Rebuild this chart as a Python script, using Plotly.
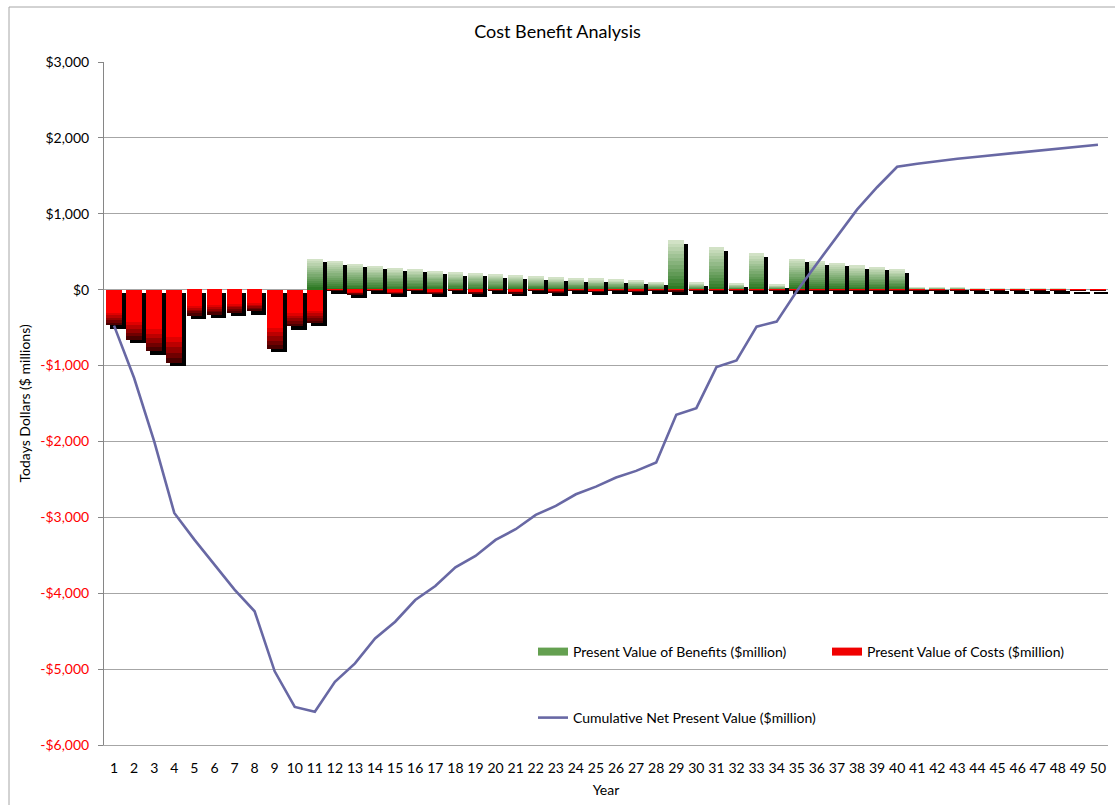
import plotly.graph_objects as go

years = list(range(1, 51))

benefits = [0, 0, 0, 0, 0, 0, 0, 0, 0, 0,
            404, 373, 343, 312, 285, 272, 250, 228, 219, 202,
            188, 171, 158, 149, 141, 132, 119, 101, 650, 88,
            557, 79, 479, 66, 404, 374, 352, 321, 303, 268,
            35, 35, 35, 22, 22, 22, 22, 22, 8, 8]

costs = [-468, -659, -813, -966, -343, -329, -307, -286, -782, -483,
         -439, -10, -66, -10, -57, -10, -53, -10, -48, -10,
         -44, -10, -38, -10, -30, -10, -25, -10, -20, -10,
         -10, -10, -10, -10, -10, -10, -10, -10, -10, -10,
         -10, -10, -10, -10, -10, -10, -10, -10, -10, -10]

cumulative = [-474, -1164, -1998, -2942, -3294, -3623, -3953, -4238, -5029, -5498,
              -5562, -5168, -4925, -4595, -4375, -4090, -3905, -3658, -3509, -3298,
              -3157, -2968, -2850, -2696, -2595, -2476, -2388, -2278, -1649, -1561,
              -1020, -932, -487, -421, -22, 343, 703, 1055, 1350, 1620,
              1660, 1695, 1725, 1752, 1778, 1805, 1828, 1853, 1880, 1910]

y_tick_vals = [3000, 2000, 1000, 0, -1000, -2000, -3000, -4000, -5000, -6000]
y_tick_labels = ["$3,000", "$2,000", "$1,000", "$0", "-$1,000", "-$2,000",
                 "-$3,000", "-$4,000", "-$5,000", "-$6,000"]

title_text = "Cost Benefit Analysis"
y_title = "Todays Dollars ($ millions)"
x_title = "Year"
name_benefits = "Present Value of Benefits ($million)"
name_costs = "Present Value of Costs ($million)"
name_cum = "Cumulative Net Present Value ($million)"

FONT = "Lato"
FS = 14
N = 14
BW = 0.78
OFF = -BW / 2
SH_DX = 0.2
SH_DY = -45


def lerp(c1, c2, t):
    return "rgb(%d,%d,%d)" % tuple(round(a + (b - a) * t) for a, b in zip(c1, c2))


fig = go.Figure()

# shadows
fig.add_trace(go.Bar(x=years, y=benefits, base=[SH_DY] * len(years), width=BW,
                     offset=OFF + SH_DX, marker=dict(color="black", line=dict(width=0)),
                     showlegend=False, hoverinfo="skip"))
fig.add_trace(go.Bar(x=years, y=costs, base=[SH_DY] * len(years), width=BW,
                     offset=OFF + SH_DX, marker=dict(color="black", line=dict(width=0)),
                     showlegend=False, hoverinfo="skip"))

# benefits gradient slices (bottom dark -> top light)
dark_g = (40, 118, 30)
light_g = (216, 230, 204)
for k in range(N):
    t = (k + 0.5) / N
    fig.add_trace(go.Bar(x=years, y=[b / N for b in benefits],
                         base=[b * k / N for b in benefits], width=BW, offset=OFF,
                         marker=dict(color=lerp(dark_g, light_g, t), line=dict(width=0)),
                         showlegend=False, hoverinfo="skip"))

# costs gradient slices (top red -> bottom dark)
red = (255, 0, 0)
dark_r = (55, 0, 0)
for k in range(N):
    t = (k + 0.5) / N  # 0 at top, 1 at bottom
    if t < 0.62:
        col = "rgb(255,0,0)"
    else:
        col = lerp(red, dark_r, (t - 0.62) / 0.38)
    fig.add_trace(go.Bar(x=years, y=[c / N for c in costs],
                         base=[c * k / N for c in costs], width=BW, offset=OFF,
                         marker=dict(color=col, line=dict(width=0)),
                         showlegend=False, hoverinfo="skip"))

# cumulative line
fig.add_trace(go.Scatter(x=years, y=cumulative, mode="lines", name=name_cum,
                         line=dict(color="rgb(104,104,164)", width=2.6),
                         legend="legend2"))

# legend entries
fig.add_trace(go.Scatter(x=[None], y=[None], mode="lines", name=name_benefits,
                         line=dict(color="rgb(100,160,80)", width=8), legend="legend"))
fig.add_trace(go.Scatter(x=[None], y=[None], mode="lines", name=name_costs,
                         line=dict(color="rgb(240,0,0)", width=8), legend="legend3"))

tick_text = [lab if v >= 0 else '<span style="color:#ff0000">%s</span>' % lab
             for v, lab in zip(y_tick_vals, y_tick_labels)]

L, R, T, B = 104, 7, 62, 60
W, H = 1115, 805
pw, ph = W - L - R, H - T - B


def px(x):
    return (x - L) / pw


def py(y):
    return (H - B - y) / ph


leg_common = dict(orientation="h", xanchor="left", yanchor="middle",
                  bgcolor="rgba(0,0,0,0)", font=dict(size=FS))

fig.update_layout(
    width=W, height=H,
    margin=dict(l=L, r=R, t=T, b=B, autoexpand=False),
    paper_bgcolor="white", plot_bgcolor="white",
    barmode="overlay", bargap=0,
    font=dict(family=FONT, size=FS, color="black"),
    title=dict(text=title_text, x=0.5, xref="container", xanchor="center",
               y=1 - 32 / H, yanchor="middle", font=dict(size=18)),
    xaxis=dict(range=[0.5, 50.5], tickmode="array", tickvals=years,
               ticktext=[str(y) for y in years], showgrid=False, zeroline=False,
               showline=True, linecolor="#a6a6a6", ticks="", tickangle=0,
               tickfont=dict(size=FS), ticklabelstandoff=10,
               title=dict(text=x_title, standoff=10, font=dict(size=FS))),
    yaxis=dict(range=[-6000, 3000], tickmode="array", tickvals=y_tick_vals,
               ticktext=tick_text, showgrid=True, gridcolor="#a6a6a6", gridwidth=1,
               zeroline=True, zerolinecolor="#a6a6a6", zerolinewidth=1,
               showline=True, linecolor="#868686", ticks="outside", ticklen=5,
               tickcolor="#868686", ticklabelstandoff=6, tickfont=dict(size=FS)),
    legend=dict(x=px(533), y=py(652), **leg_common),
    legend3=dict(x=px(827), y=py(652), **leg_common),
    legend2=dict(x=px(533), y=py(718), **leg_common),
    annotations=[dict(text=y_title, textangle=-90, xref="paper", yref="paper",
                      x=px(24), y=0.5, xanchor="center", yanchor="middle",
                      showarrow=False, font=dict(size=FS))],
    shapes=[dict(type="rect", xref="paper", yref="paper",
                 x0=px(9), x1=px(1125), y0=py(815), y1=py(7),
                 line=dict(color="#a6a6a6", width=1), fillcolor="rgba(0,0,0,0)",
                 layer="below")],
)

fig.write_html("out.html", config={"displayModeBar": False},
               post_script="document.body.style.margin='0';document.body.style.overflow='hidden';")
